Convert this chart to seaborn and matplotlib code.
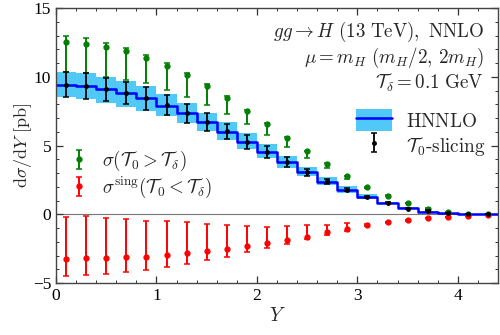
import numpy as np
import pandas as pd
import matplotlib
matplotlib.use('Agg')
import matplotlib.pyplot as plt
from matplotlib.patches import Patch
from matplotlib.lines import Line2D
import seaborn as sns

# rapidity bins (width 0.2)
y_edges = [0.0, 0.2, 0.4, 0.6, 0.8, 1.0, 1.2, 1.4, 1.6, 1.8, 2.0, 2.2,
           2.4, 2.6, 2.8, 3.0, 3.2, 3.4, 3.6, 3.8, 4.0, 4.2, 4.4]
y_mid = [0.1, 0.3, 0.5, 0.7, 0.9, 1.1, 1.3, 1.5, 1.7, 1.9, 2.1, 2.3,
         2.5, 2.7, 2.9, 3.1, 3.3, 3.5, 3.7, 3.9, 4.1, 4.3]

# HNNLO central + scale band
hnnlo = [9.42, 9.35, 9.12, 8.84, 8.45, 7.9, 7.39, 6.72, 6.02, 5.28, 4.55, 3.82,
         3.09, 2.38, 1.76, 1.24, 0.82, 0.43, 0.18, 0.06, 0.02, 0.0]
hnnlo_hi = [10.36, 10.3, 10.02, 9.7, 9.34, 8.78, 8.08, 7.39, 6.72, 5.93, 5.09, 4.23,
            3.43, 2.7, 2.05, 1.45, 0.93, 0.5, 0.22, 0.08, 0.03, 0.01]
hnnlo_lo = [8.54, 8.37, 8.13, 7.81, 7.52, 7.15, 6.62, 6.06, 5.4, 4.77, 4.11, 3.4,
            2.77, 2.12, 1.55, 1.08, 0.72, 0.37, 0.15, 0.05, 0.01, 0.0]

# T0-slicing total
slic = [9.39, 9.34, 9.1, 8.81, 8.45, 7.97, 7.4, 6.72, 6.06, 5.28, 4.55, 3.82,
        3.07, 2.41, 1.77, 1.26, 0.83, 0.42, 0.27, 0.07, 0.0, 0.0]
slic_hi = [10.36, 10.27, 9.9, 9.61, 9.23, 8.71, 8.0, 7.35, 6.6, 5.77, 4.96, 4.18,
           3.33, 2.6, 1.88, 1.32, 0.86, 0.44, 0.28, 0.08, 0.01, 0.0]
slic_lo = [8.54, 8.42, 8.25, 8.0, 7.57, 7.19, 6.66, 6.06, 5.45, 4.77, 4.11, 3.43,
           2.77, 2.22, 1.66, 1.2, 0.8, 0.4, 0.26, 0.06, 0.0, 0.0]

# sigma(T0 > Tdelta)
above = [12.5, 12.4, 12.2, 11.85, 11.4, 10.82, 10.15, 9.32, 8.49, 7.52, 6.55, 5.57,
         4.6, 3.67, 2.77, 2.0, 1.36, 0.83, 0.42, 0.15, 0.03, 0.0]
above_hi = [12.94, 12.8, 12.48, 12.1, 11.58, 11.02, 10.27, 9.46, 8.58, 7.6, 6.62, 5.62,
            4.64, 3.7, 2.8, 2.02, 1.37, 0.84, 0.43, 0.15, 0.03, 0.0]
above_lo = [10.36, 10.27, 10.0, 9.76, 9.56, 9.05, 8.56, 7.96, 7.28, 6.55, 5.74, 4.91,
            4.11, 3.38, 2.6, 1.92, 1.31, 0.8, 0.4, 0.14, 0.02, 0.0]

# sigma^sing(T0 < Tdelta)
below = [-3.23, -3.2, -3.19, -3.14, -3.07, -2.97, -2.82, -2.68, -2.51, -2.31, -2.09, -1.85,
         -1.63, -1.31, -1.07, -0.8, -0.58, -0.44, -0.27, -0.17, -0.1, -0.07]
below_hi = [-0.17, -0.15, -0.27, -0.34, -0.46, -0.51, -0.58, -0.68, -0.75, -0.85, -0.93, -0.88,
            -0.8, -0.75, -0.63, -0.68, -0.55, -0.43, -0.26, -0.16, -0.1, -0.07]
below_lo = [-4.45, -4.4, -4.33, -4.2, -4.04, -3.84, -3.62, -3.33, -3.09, -2.77, -2.46, -2.14,
            -1.8, -1.48, -1.24, -0.86, -0.6, -0.45, -0.28, -0.18, -0.1, -0.07]

sns.set_style('ticks')
plt.rcParams['font.family'] = ['Liberation Serif', 'DejaVu Serif']
plt.rcParams['mathtext.fontset'] = 'cm'

fig, ax = plt.subplots(figsize=(5, 3.35), dpi=100)
fig.subplots_adjust(left=0.112, right=0.996, top=0.976, bottom=0.155)

# band and step line
band_hi = hnnlo_hi + [hnnlo_hi[-1]]
band_lo = hnnlo_lo + [hnnlo_lo[-1]]
ax.fill_between(y_edges, band_lo, band_hi, step='post', color='#50c8f8', lw=0, zorder=1)
step = pd.DataFrame({'Y': y_edges, 'val': hnnlo + [hnnlo[-1]]})
sns.lineplot(data=step, x='Y', y='val', drawstyle='steps-post', color='#0000ff',
             lw=1.8, estimator=None, ax=ax, zorder=2)

ax.axhline(0, color='#777777', lw=0.8, zorder=0)

def err(c, hi, lo):
    c, hi, lo = np.array(c), np.array(hi), np.array(lo)
    return [np.clip(c - lo, 0, None), np.clip(hi - c, 0, None)]

kw = dict(fmt='o', ms=3.5, elinewidth=1.4, capsize=2.2, capthick=1.1)
eb_g = ax.errorbar(y_mid, above, yerr=err(above, above_hi, above_lo), color='#008000', zorder=3, **kw)
eb_r = ax.errorbar(y_mid, below, yerr=err(below, below_hi, below_lo), color='#ff0000', zorder=3, **kw)
eb_k = ax.errorbar(y_mid, slic, yerr=err(slic, slic_hi, slic_lo), fmt='o', ms=2.5,
                   elinewidth=1.3, capsize=2.2, capthick=1.1, color='black', zorder=4)

ax.set_xlim(0, 4.4)
ax.set_ylim(-5, 15)
ax.set_xticks([0, 1, 2, 3, 4])
ax.set_xticks(np.arange(0, 4.41, 0.2), minor=True)
ax.set_yticks([-5, 0, 5, 10, 15])
ax.set_yticks(np.arange(-5, 15.1, 1), minor=True)
ax.tick_params(which='both', direction='in', top=True, right=True, labelsize=12.5,
               colors='#333333', labelcolor='black')
ax.tick_params(which='major', length=5, width=0.9)
ax.tick_params(which='minor', length=2.5, width=0.7)
for s in ax.spines.values():
    s.set_color('#444444')
    s.set_linewidth(1.0)

ax.set_xlabel(r'$Y$', fontsize=14, labelpad=2)
ax.set_ylabel(r'$\mathrm{d}\sigma/\mathrm{d}Y\ [\mathrm{pb}]$', fontsize=13, labelpad=-1)

txt = [r'$gg \to H\ (13\ \mathrm{TeV}),\ \mathrm{NNLO}$',
       r'$\mu = m_H\ (m_H/2,\, 2m_H)$',
       r'$\mathcal{T}_\delta = 0.1\ \mathrm{GeV}$']
for t, yy in zip(txt, [0.913, 0.818, 0.727]):
    ax.text(0.968, yy, t, transform=ax.transAxes, ha='right', va='center', fontsize=13.7)

h1 = (Patch(color='#50c8f8', lw=0), Line2D([], [], color='#0000ff', lw=1.8))
leg1 = ax.legend([h1, eb_k], [r'$\mathrm{HNNLO}$', r'$\mathcal{T}_0\mathrm{\text{-}slicing}$'],
                 loc='upper right', bbox_to_anchor=(1.01, 0.695), frameon=False,
                 fontsize=13.8, handlelength=1.9, handleheight=1.4, labelspacing=0.15,
                 handletextpad=0.7)
ax.add_artist(leg1)
ax.legend([eb_g, eb_r], [r'$\sigma(\mathcal{T}_0 > \mathcal{T}_\delta)$',
                         r'$\sigma^{\mathrm{sing}}(\mathcal{T}_0 < \mathcal{T}_\delta)$'],
          loc='upper left', bbox_to_anchor=(-0.02, 0.55), frameon=False, fontsize=13.7,
          handlelength=1.5, labelspacing=0.1, handletextpad=0.5)

fig.savefig('out.png', dpi=100)
